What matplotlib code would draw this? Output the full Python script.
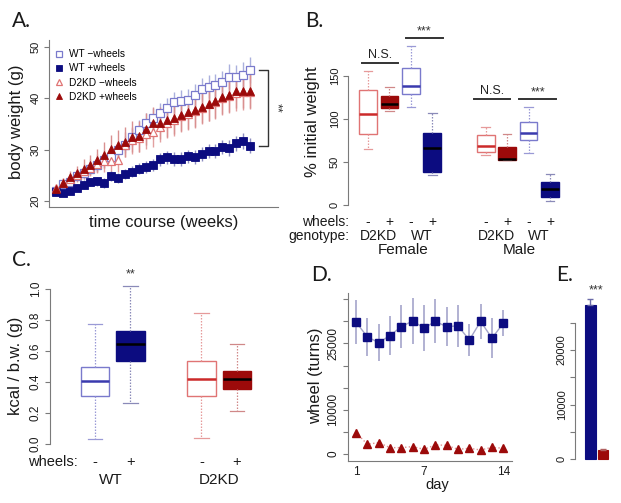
import matplotlib
matplotlib.use('Agg')
import matplotlib.pyplot as plt
import numpy as np

plt.rcParams['font.family'] = ['Liberation Sans', 'DejaVu Sans']

# ---------------- data ----------------
# Panel A: body weight (g) over the time course (weeks)
weeks = list(range(1, 30))
wt_nowheel = [22.0, 23.3, 23.7, 24.8, 25.4, 26.3, 27.0, 27.9, 28.6, 29.9, 31.0, 32.5, 33.9, 35.2, 36.2,
              37.1, 38.1, 39.2, 39.5, 39.7, 40.6, 41.8, 42.3, 42.5, 43.1, 44.2, 44.1, 44.6, 45.5]
wt_nowheel_err = [0.5, 0.8, 0.9, 1.0, 1.1, 1.2, 1.3, 1.4, 1.5, 1.6, 1.7, 1.8, 1.9, 2.0, 2.0,
                  2.0, 2.0, 2.1, 2.1, 2.2, 2.2, 2.2, 2.3, 2.3, 2.3, 2.4, 2.4, 2.4, 2.5]
wt_wheel = [21.8, 21.5, 22.0, 22.6, 23.2, 23.7, 23.8, 23.5, 24.8, 24.5, 25.2, 25.7, 26.3, 26.6, 27.0,
            28.1, 28.5, 28.2, 28.2, 28.7, 28.6, 29.2, 29.7, 29.7, 30.5, 30.3, 31.2, 31.7, 30.8]
wt_wheel_err = [0.6, 0.6, 0.7, 0.7, 0.8, 0.8, 0.9, 0.9, 1.0, 1.0, 1.0, 1.1, 1.1, 1.1, 1.2,
                1.2, 1.2, 1.3, 1.3, 1.3, 1.3, 1.4, 1.4, 1.4, 1.4, 1.5, 1.5, 1.5, 1.5]
d2_nowheel = [22.5, 23.5, 24.2, 25.0, 25.8, 26.5, 27.3, 27.8, 27.8, 28.0, 31.0, 31.8, 32.2, 33.0, 33.5,
              34.5, 35.2, 35.8, 36.5, 37.0, 37.5, 38.2, 38.8, 39.3, 40.0, 40.5, 41.0, 41.2, 41.3]
d2_nowheel_err = [0.6, 0.9, 1.1, 1.3, 1.5, 1.7, 1.9, 2.1, 2.2, 2.4, 2.5, 2.6, 2.7, 2.8, 2.9,
                  3.0, 3.0, 3.1, 3.1, 3.2, 3.2, 3.2, 3.3, 3.3, 3.3, 3.4, 3.4, 3.4, 3.4]
d2_wheel = [22.3, 23.5, 24.6, 25.4, 26.3, 27.0, 27.9, 28.9, 30.2, 31.0, 31.5, 32.5, 32.6, 34.1, 35.2,
            35.2, 35.7, 36.2, 36.8, 37.3, 37.7, 38.4, 38.9, 39.5, 40.2, 40.7, 41.4, 41.5, 41.4]
d2_wheel_err = [0.6, 1.0, 1.2, 1.5, 1.8, 2.0, 2.2, 2.5, 2.7, 2.9, 3.0, 3.0, 3.0, 3.1, 3.1,
                3.1, 3.2, 3.2, 3.2, 3.2, 3.3, 3.3, 3.3, 3.3, 3.3, 3.3, 3.3, 3.3, 3.3]
a_legend = ['WT \u2212wheels', 'WT +wheels', 'D2KD \u2212wheels', 'D2KD +wheels']

# Panel B: % initial weight (Female: D2KD-, D2KD+, WT-, WT+ ; Male: same)
b_whislo = [65, 109, 113.6, 35, 58, 52, 60, 4.6]
b_q1 = [82.6, 112.4, 128.7, 38.8, 61.2, 52.3, 75.6, 9.7]
b_med = [105.8, 117, 138.4, 66, 68.6, 53, 84, 18.2]
b_q3 = [133.7, 127, 159, 84, 81.4, 67.8, 96, 27]
b_whishi = [156, 137, 185, 107, 91, 82.6, 114, 35.7]
b_wheels = ['-', '+', '-', '+', '-', '+', '-', '+']
b_genotypes = ['D2KD', 'WT', 'D2KD', 'WT']
b_sexes = ['Female', 'Male']
b_sig = ['N.S.', '***', 'N.S.', '***']

# Panel C: kcal / b.w. (WT-, WT+, D2KD-, D2KD+)
c_whislo = [0.03, 0.262, 0.04, 0.213]
c_q1 = [0.31, 0.537, 0.31, 0.357]
c_med = [0.408, 0.643, 0.417, 0.417]
c_q3 = [0.499, 0.731, 0.535, 0.471]
c_whishi = [0.776, 1.02, 0.843, 0.645]
c_wheels = ['-', '+', '-', '+']
c_genotypes = ['WT', 'D2KD']

# Panel D: wheel turns per day
days = list(range(1, 15))
d_wt = [29850, 26500, 25200, 26800, 28800, 30100, 28500, 30000, 28800, 29000, 25800, 30000, 26200, 29600]
d_wt_err = [5000, 4300, 4200, 4500, 4900, 5300, 5100, 5000, 4400, 4700, 3700, 3900, 4500, 3000]
d_d2 = [4850, 2200, 2580, 1440, 1440, 1670, 1060, 2050, 1970, 1060, 1290, 910, 1520, 1290]
d_d2_err = [900, 350, 350, 300, 300, 300, 300, 300, 300, 300, 300, 300, 300, 300]

# Panel E: mean wheel turns
e_groups = ['WT', 'D2KD']
e_mean = [28200, 1700]
e_err = [1100, 200]

# ---------------- style ----------------
NAVY = '#0c0c80'
DRED = '#9c0a0a'
LBLUE = '#7a7acc'
MBLUE = '#3a3aae'
LRED = '#e07474'
MRED = '#cc2a2a'
AXC = '#7a7a7a'
TXT = '#1a1a1a'

W, H = 621, 503
fig = plt.figure(figsize=(W / 100, H / 100), dpi=100)


def add_ax(x0, x1, y0, y1):
    ax = fig.add_axes([x0 / W, 1 - y1 / H, (x1 - x0) / W, (y1 - y0) / H])
    ax.patch.set_alpha(0)
    return ax


def ftxt(x, y, s, **kw):
    kw.setdefault('color', TXT)
    return fig.text(x / W, 1 - y / H, s, **kw)


def rstyle(ax, left_bounds=None, bottom=True, ysize=8):
    for s in ['top', 'right']:
        ax.spines[s].set_visible(False)
    ax.spines['left'].set_color(AXC)
    ax.spines['left'].set_linewidth(0.8)
    if left_bounds is not None:
        ax.spines['left'].set_bounds(*left_bounds)
    if bottom:
        ax.spines['bottom'].set_color(AXC)
        ax.spines['bottom'].set_linewidth(0.8)
    else:
        ax.spines['bottom'].set_visible(False)
    ax.tick_params(axis='y', direction='out', length=3.5, width=0.8, color=AXC, pad=2.5,
                   labelrotation=90, labelsize=ysize, labelcolor=TXT)
    ax.tick_params(axis='x', direction='out', length=3.5, width=0.8, color=AXC, pad=2.5,
                   labelsize=ysize, labelcolor=TXT)
    for lb in ax.get_yticklabels():
        lb.set_va('center')


def draw_boxes(ax, positions, lo, q1, med, q3, hi, styles, width, capw):
    stats = [dict(whislo=a, q1=b, med=c, q3=d, whishi=e, fliers=[])
             for a, b, c, d, e in zip(lo, q1, med, q3, hi)]
    art = ax.bxp(stats, positions=positions, widths=width, patch_artist=True,
                 showfliers=False, capwidths=capw, manage_ticks=False)
    for i, (face, edge, mc, wc) in enumerate(styles):
        art['boxes'][i].set(facecolor=face, edgecolor=edge, linewidth=1.0)
        art['medians'][i].set(color=mc, linewidth=1.8, solid_capstyle='butt')
        for w in art['whiskers'][2 * i:2 * i + 2]:
            w.set(color=wc, linestyle=(0, (1.2, 1.2)), linewidth=0.9)
        for c in art['caps'][2 * i:2 * i + 2]:
            c.set(color=wc, linewidth=0.9)


# ---------------- Panel A ----------------
axA = add_ax(49, 278, 40, 207)
axA.set_xlim(0.03, 33.0)
axA.set_ylim(18.83, 51.36)
axA.set_yticks([20, 30, 40, 50])
axA.set_xticks([])
rstyle(axA)
axA.errorbar(weeks, wt_nowheel, yerr=wt_nowheel_err, fmt='none', ecolor='#aab0dd', elinewidth=1.0)
axA.errorbar(weeks, d2_nowheel, yerr=d2_nowheel_err, fmt='none', ecolor='#e2a0a0', elinewidth=1.0)
axA.errorbar(weeks, d2_wheel, yerr=d2_wheel_err, fmt='none', ecolor='#d99090', elinewidth=1.0)
axA.errorbar(weeks, wt_wheel, yerr=wt_wheel_err, fmt='none', ecolor='#8c8cc0', elinewidth=1.0)
hA = []
hA.append(axA.plot(weeks, wt_nowheel, 's', ms=5.2, mfc='white', mec=LBLUE, mew=0.9, label=a_legend[0])[0])
hA.append(axA.plot(weeks, wt_wheel, 's', ms=5.2, mfc=NAVY, mec=NAVY, mew=0.6, label=a_legend[1])[0])
hA.append(axA.plot(weeks, d2_nowheel, '^', ms=5.6, mfc='white', mec=LRED, mew=0.9, label=a_legend[2])[0])
hA.append(axA.plot(weeks, d2_wheel, '^', ms=5.6, mfc=DRED, mec=DRED, mew=0.6, label=a_legend[3])[0])
axA.legend(handles=hA, loc='upper left', bbox_to_anchor=(50 / W, 1 - 44 / H),
           bbox_transform=fig.transFigure, frameon=False, fontsize=7.3, handlelength=0.8,
           handletextpad=0.6, labelspacing=0.42, markerscale=0.75, borderpad=0)
# bracket
xb = 31.6
axA.plot([30.2, xb, xb, 30.2], [wt_nowheel[-1], wt_nowheel[-1], wt_wheel[-1], wt_wheel[-1]],
         color='#333333', lw=1.0, clip_on=False)
axA.text(32.7, (wt_nowheel[-1] + wt_wheel[-1]) / 2, '**', rotation=270, ha='center', va='center',
         fontsize=9, color='#333333')
ftxt(17, 122, 'body weight (g)', rotation=90, ha='center', va='center', fontsize=12)
ftxt(164, 222, 'time course (weeks)', ha='center', va='center', fontsize=12)

# ---------------- Panel B ----------------
axB = add_ax(348, 565, 30, 211)
b_pos = [1, 2, 3, 4, 6.5, 7.5, 8.5, 9.5]
axB.set_xlim(0.065, 10.2)
axB.set_ylim(-6.98, 203.5)
axB.set_yticks([0, 50, 100, 150])
axB.set_xticks([])
rstyle(axB, left_bounds=(0, 150), bottom=False)
b_styles = [('white', LRED, MRED, '#e69a9a'), (DRED, DRED, 'black', '#d08888'),
            ('white', LBLUE, MBLUE, '#9a9ad6'), (NAVY, NAVY, 'black', '#8a8ab8')] * 2
draw_boxes(axB, b_pos, b_whislo, b_q1, b_med, b_q3, b_whishi, b_styles, 0.82, 0.4)
sig_spans = [(0.72, 2.40, 165.5), (2.78, 4.50, 194), (5.95, 7.64, 123), (8.06, 9.79, 123)]
for (x0, x1, yy), s in zip(sig_spans, b_sig):
    axB.plot([x0, x1], [yy, yy], color='#333333', lw=1.4, clip_on=False)
    if s == '***':
        axB.text((x0 + x1) / 2, yy + 1.0, s, ha='center', va='bottom', fontsize=9, color='#333333')
    else:
        axB.text((x0 + x1) / 2, yy + 2.5, s, ha='center', va='bottom', fontsize=9, color='#222222')
ftxt(313, 122, '% initial weight', rotation=90, ha='center', va='center', fontsize=12)
b_xpx = [368 + (p - 1) * 21.4 for p in b_pos]
for xp, s in zip(b_xpx, b_wheels):
    ftxt(xp, 222, s, ha='center', va='center', fontsize=10)
ftxt(349, 222, 'wheels:', ha='right', va='center', fontsize=10)
ftxt(349, 236, 'genotype:', ha='right', va='center', fontsize=10)
for k, g in enumerate(b_genotypes):
    ftxt((b_xpx[2 * k] + b_xpx[2 * k + 1]) / 2, 236, g, ha='center', va='center', fontsize=10)
ftxt(403, 250, b_sexes[0], ha='center', va='center', fontsize=11)
ftxt(519, 250, b_sexes[1], ha='center', va='center', fontsize=11)

# ---------------- Panel C ----------------
axC = add_ax(50, 260, 270, 450)
c_pos = [1, 2, 4, 5]
axC.set_xlim(-0.268, 5.65)
axC.set_ylim(-0.0387, 1.1226)
axC.set_yticks([0, 0.2, 0.4, 0.6, 0.8, 1.0])
axC.set_yticklabels(['0.0', '0.2', '0.4', '0.6', '0.8', '1.0'])
axC.set_xticks([])
rstyle(axC, left_bounds=(0, 1.0), bottom=False, ysize=8.5)
c_styles = [('white', LBLUE, MBLUE, '#9a9ad6'), (NAVY, NAVY, 'black', '#8a8ab8'),
            ('white', LRED, MRED, '#e69a9a'), (DRED, DRED, 'black', '#d08888')]
draw_boxes(axC, c_pos, c_whislo, c_q1, c_med, c_q3, c_whishi, c_styles, 0.8, 0.4)
axC.text(2, 1.097, '**', ha='center', va='center', fontsize=9, color='#333333')
ftxt(16, 366, 'kcal / b.w. (g)', rotation=90, ha='center', va='center', fontsize=12)
c_xpx = [95, 130.5, 202, 237]
for xp, s in zip(c_xpx, c_wheels):
    ftxt(xp, 462, s, ha='center', va='center', fontsize=10.5)
ftxt(78, 462, 'wheels:', ha='right', va='center', fontsize=10.5)
ftxt(111, 480, c_genotypes[0], ha='center', va='center', fontsize=11)
ftxt(219, 480, c_genotypes[1], ha='center', va='center', fontsize=11)

# ---------------- Panel D ----------------
axD = add_ax(347.7, 511.7, 293.3, 460.7)
axD.set_xlim(0.267, 14.74)
axD.set_ylim(-1516, 36357)
yt = list(range(0, 35001, 5000))
axD.set_yticks(yt)
axD.set_yticklabels([str(v) if v in (0, 10000, 25000) else '' for v in yt])
axD.set_xticks([1, 7, 14])
rstyle(axD, ysize=8.5)
axD.tick_params(axis='x', length=0, pad=4)
axD.errorbar(days, d_wt, yerr=d_wt_err, fmt='none', ecolor='#9c9cc6', elinewidth=1.1)
axD.plot(days, d_wt, '-', color='#a4a4c8', lw=1.0)
axD.plot(days, d_wt, 's', ms=5.5, mfc=NAVY, mec=NAVY)
axD.errorbar(days, d_d2, yerr=d_d2_err, fmt='none', ecolor='#e0a0a0', elinewidth=1.0)
axD.plot(days, d_d2, ':', color='#e09090', lw=1.0)
axD.plot(days, d_d2, '^', ms=6, mfc=DRED, mec=DRED)
ftxt(316, 376, 'wheel (turns)', rotation=90, ha='center', va='center', fontsize=12)
ftxt(437, 485, 'day', ha='center', va='center', fontsize=10.5)

# ---------------- Panel E ----------------
axE = add_ax(575, 615, 285, 465)
axE.set_xlim(-0.92, 2.82)
axE.set_ylim(-1101, 31927)
yt = list(range(0, 25001, 5000))
axE.set_yticks(yt)
axE.set_yticklabels([str(v) if v in (0, 10000, 20000) else '' for v in yt])
axE.set_xticks([])
rstyle(axE, left_bounds=(0, 25000), bottom=False, ysize=8)
e_x = [0.5, 1.7]
e_cols = [NAVY, DRED]
e_ecols = ['#6a6aa8', '#b06060']
axE.bar(e_x, e_mean, width=1.0, color=e_cols, edgecolor=e_cols, linewidth=0.8)
for xx, m, er, ec in zip(e_x, e_mean, e_err, e_ecols):
    axE.errorbar([xx], [m], yerr=[[0], [er]], fmt='none', ecolor=ec, elinewidth=1.0, capsize=2.5)
axE.text(1.05, 30900, '***', ha='center', va='center', fontsize=9, color='#333333')

# ---------------- panel letters ----------------
for (x, y, s) in [(12, 27, 'A.'), (305, 27, 'B.'), (12, 266, 'C.'), (311, 281, 'D.'), (556, 281, 'E.')]:
    ftxt(x, y, s, ha='left', va='baseline', fontsize=15, family=['Lato', 'DejaVu Sans'])

fig.savefig('out.png', dpi=100)
